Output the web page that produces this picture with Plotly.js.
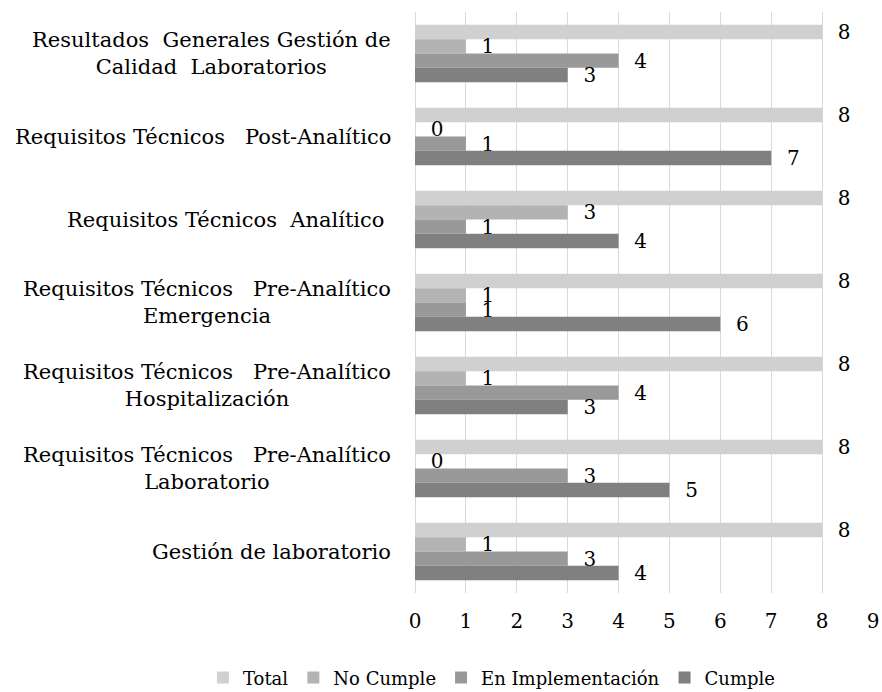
<!DOCTYPE html>
<html>
<head>
<meta charset="utf-8">
<script src="https://cdn.plot.ly/plotly-3.0.1.min.js"></script>
<style>html,body{margin:0;padding:0;background:#fff;}#chart{width:882px;height:692px;}</style>
</head>
<body>
<div id="chart"></div>
<script>
var categories = [
  "Resultados\u00a0\u00a0Generales Gestión de<br>Calidad\u00a0\u00a0Laboratorios",
  "Requisitos Técnicos\u00a0\u00a0\u00a0Post-Analítico",
  "Requisitos Técnicos\u00a0\u00a0Analítico\u00a0",
  "Requisitos Técnicos\u00a0\u00a0\u00a0Pre-Analítico<br>Emergencia",
  "Requisitos Técnicos\u00a0\u00a0\u00a0Pre-Analítico<br>Hospitalización",
  "Requisitos Técnicos\u00a0\u00a0\u00a0Pre-Analítico<br>Laboratorio",
  "Gestión de laboratorio"
];
var total = [8, 8, 8, 8, 8, 8, 8];
var noCumple = [1, 0, 3, 1, 1, 0, 1];
var enImplementacion = [4, 1, 1, 1, 4, 3, 3];
var cumple = [3, 7, 4, 6, 3, 5, 4];
var seriesNames = ["Total", "No Cumple", "En Implementación", "Cumple"];
var tickVals = [0, 1, 2, 3, 4, 5, 6, 7, 8, 9];

var FONT = "DejaVu Serif";
var colors = ["#d0d0d0", "#b3b3b3", "#999999", "#808080"];
var seriesData = [total, noCumple, enImplementacion, cumple];

var traces = seriesData.map(function (vals, i) {
  return {
    type: "bar",
    orientation: "h",
    name: seriesNames[i],
    x: vals,
    y: categories,
    marker: {color: colors[i], line: {width: 0}},
    texttemplate: "\u00a0\u00a0%{x}",
    textposition: "outside",
    constraintext: "none",
    cliponaxis: false,
    textfont: {family: FONT, size: 20, color: "#000"},
    hoverinfo: "x+name"
  };
});

var annotations = categories.map(function (c) {
  return {
    x: 0, xref: "paper", xanchor: "right", xshift: -22,
    y: c, yref: "y", yanchor: "middle",
    text: c, align: "center", showarrow: false,
    font: {family: FONT, size: 21, color: "#000"}
  };
});

var layout = {
  width: 882, height: 692,
  margin: {l: 415, r: 9, t: 12, b: 99, autoexpand: false},
  paper_bgcolor: "#fff", plot_bgcolor: "#fff",
  barmode: "group",
  bargap: 0.31, bargroupgap: 0,
  font: {family: FONT, size: 20, color: "#000"},
  xaxis: {
    range: [0, 9], tickvals: tickVals, ticktext: tickVals.map(String),
    showgrid: true, gridcolor: "#d9d9d9", gridwidth: 1,
    zeroline: true, zerolinecolor: "#d9d9d9", zerolinewidth: 1,
    showline: false, ticks: "", ticklen: 0, ticklabelstandoff: 14,
    tickfont: {family: FONT, size: 20, color: "#000"},
    automargin: false,
    fixedrange: true
  },
  yaxis: {
    type: "category", categoryorder: "array", categoryarray: categories,
    autorange: "reversed",
    showticklabels: false, showgrid: false, zeroline: false, showline: false, ticks: "",
    automargin: false,
    fixedrange: true
  },
  legend: {
    orientation: "h", x: -0.463, xanchor: "left", xref: "paper",
    y: -0.146, yanchor: "middle", yref: "paper",
    bgcolor: "rgba(0,0,0,0)",
    font: {family: FONT, size: 18, color: "#000"},
    itemwidth: 30, tracegroupgap: 0
  },
  annotations: annotations,
  showlegend: true
};

Plotly.newPlot("chart", traces, layout, {displayModeBar: false, staticPlot: true});
</script>
</body>
</html>
